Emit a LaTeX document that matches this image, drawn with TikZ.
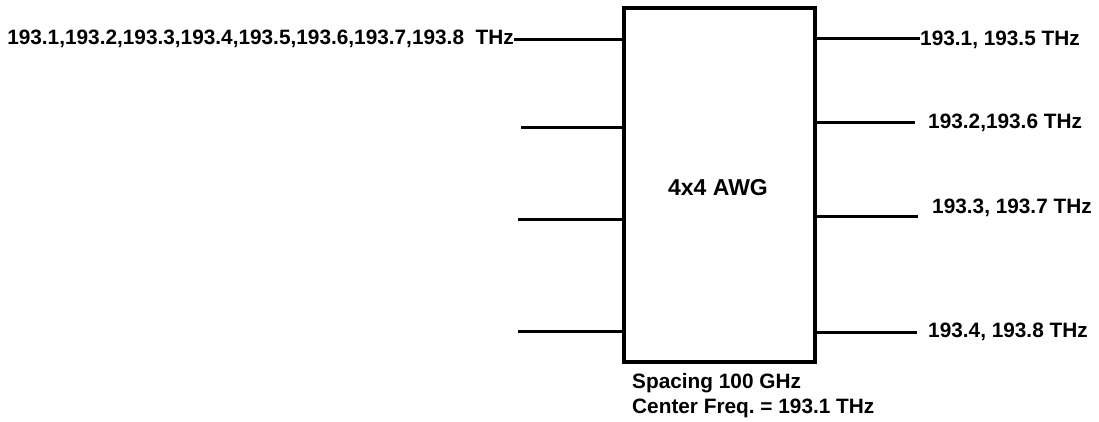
\documentclass[tikz,border=0pt]{standalone}
\usepackage{fontspec}
\setmainfont{Liberation Sans}
\frenchspacing
\begin{document}
\begin{tikzpicture}[x=1pt,y=-1pt,
  lbl/.style={font=\fontsize{20.8}{24}\selectfont\bfseries, inner sep=0pt, anchor=base west},
  port/.style={line width=3pt},
  box/.style={draw, line width=3.5pt, minimum width=191pt, minimum height=354pt, inner sep=0pt}]
\useasboundingbox (0,0) rectangle (1099,421);
\node[box] (awg) at (719.5,185) {};
\node[font=\fontsize{23}{27}\selectfont\bfseries, inner sep=0pt] (title) at (718,187.5) {4x4 AWG};
% left side
\node[lbl, anchor=base east] (in1) at (514,44) {193.1,193.2,193.3,193.4,193.5,193.6,193.7,193.8\ \ THz};
\coordinate (l2) at (521,127);
\coordinate (l3) at (518,219);
\coordinate (l4) at (518,331);
\draw[port] (in1.east |- 0,39.5) -- (awg.west |- 0,39.5);
\draw[port] (l2) -- (awg.west |- l2);
\draw[port] (l3) -- (awg.west |- l3);
\draw[port] (l4) -- (awg.west |- l4);
% right side
\node[lbl] (out1) at (920,45.5) {193.1, 193.5 THz};
\node[lbl] (out2) at (928,128) {193.2,193.6 THz};
\node[lbl] (out3) at (932,213) {193.3, 193.7 THz};
\node[lbl] (out4) at (928,337.5) {193.4, 193.8 THz};
\coordinate (r2) at (915,122);
\coordinate (r3) at (918,216);
\coordinate (r4) at (917,332);
\draw[port] (awg.east |- 0,38) -- (out1.west |- 0,38);
\draw[port] (awg.east |- r2) -- (r2);
\draw[port] (awg.east |- r3) -- (r3);
\draw[port] (awg.east |- r4) -- (r4);
% bottom notes
\node[lbl] (spacing) at (632,388) {Spacing 100 GHz};
\node[lbl] (center) at (632,413) {Center Freq. = 193.1 THz};
\end{tikzpicture}
\end{document}
